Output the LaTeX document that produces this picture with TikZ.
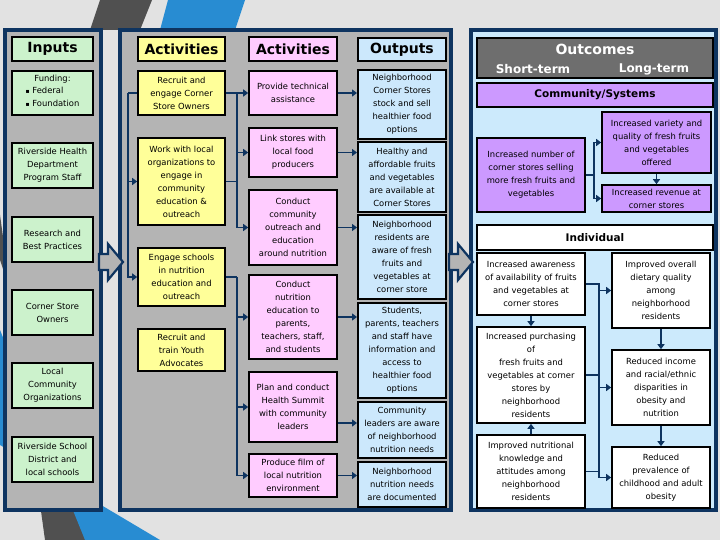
\documentclass[tikz,border=0pt]{standalone}
\usepackage{fontspec}
\setmainfont{DejaVu Sans}
\usetikzlibrary{arrows.meta}
\definecolor{pblue}{RGB}{14,52,96}
\definecolor{pgrey}{RGB}{180,180,180}
\definecolor{bggrey}{RGB}{226,226,226}
\definecolor{ingreen}{RGB}{204,242,204}
\definecolor{actyellow}{RGB}{255,255,153}
\definecolor{actpink}{RGB}{255,204,255}
\definecolor{outblue}{RGB}{204,232,252}
\definecolor{ocblue}{RGB}{204,234,252}
\definecolor{hdgrey}{RGB}{110,110,110}
\definecolor{purp}{RGB}{204,153,255}
\definecolor{decoblue}{RGB}{40,140,210}
\definecolor{decodark}{RGB}{80,80,80}
\newcommand\bodyfont{\fontsize{8.4}{13}\selectfont}
\newcommand\hdrfont{\fontsize{14}{16}\selectfont\bfseries}
\newcommand\sqbul{{\fontsize{6}{6}\selectfont ▪}}
\newcommand\bx[7]{\node[#6, minimum width={(#4-#2)*1pt}, minimum height={(#5-#3)*1pt}] (#1) at ({(#2+#4)/2},{(#3+#5)/2}) {#7};}
\begin{document}
\begin{tikzpicture}[x=1pt,y=-1pt,
  box/.style={draw=black, line width=1.6pt, inner sep=1pt, align=center, font=\bodyfont, text=black},
  inbox/.style={box, fill=ingreen},
  yelbox/.style={box, fill=actyellow},
  pinkbox/.style={box, fill=actpink},
  outbox/.style={box, fill=outblue, line width=2pt},
  purpbox/.style={box, fill=purp},
  whbox/.style={box, fill=white},
  hdr/.style={font=\hdrfont},
  panel/.style={draw=pblue, line width=4pt},
  conn/.style={draw=pblue, line width=1.8pt, -{Triangle[length=5pt,width=7pt]}},
  bus/.style={draw=pblue, line width=1.8pt},
  blockarrow/.style={draw=pblue, line width=2.2pt, fill=pgrey, line join=miter}
]
% background
\fill[bggrey] (0,0) rectangle (720,540);
\fill[decodark] (100,0) -- (152,0) -- (140,30) -- (90,30) -- cycle;
\fill[decoblue] (168,0) -- (245,0) -- (235,30) -- (160,30) -- cycle;
\fill[decodark] (0,215) -- (0,260) -- (95,540) -- (45,540) -- cycle;
\fill[decoblue] (0,330) -- (0,445) -- (160,540) -- (85,540) -- cycle;

% panels
\bx{pin}{5}{30}{101}{510}{panel, fill=pgrey}{}
\bx{pact}{120}{30}{451}{510}{panel, fill=pgrey}{}
\bx{poc}{471}{30}{716}{510}{panel, fill=ocblue}{}

% block arrows between panels
\draw[blockarrow] (99,254) -- (108,254) -- (108,244) -- (123,262) -- (108,280) -- (108,270) -- (99,270) -- cycle;
\draw[blockarrow] (449,254) -- (458,254) -- (458,244) -- (473,262) -- (458,280) -- (458,270) -- (449,270) -- cycle;

% Inputs
\bx{hin}{12}{37}{93}{61}{inbox, hdr}{Inputs}
\bx{fund}{12}{71}{93}{115}{inbox}{Funding:\\\begin{tabular}{@{}l@{}}\sqbul\ Federal\\\sqbul\ Foundation\end{tabular}}
\bx{rhd}{12}{143}{93}{188}{inbox}{Riverside Health\\Department\\Program Staff}
\bx{rbp}{12}{217}{93}{262}{inbox}{Research and\\Best Practices}
\bx{cso}{12}{290}{93}{335}{inbox}{Corner Store\\Owners}
\bx{lco}{12}{363}{93}{408}{inbox}{Local\\Community\\Organizations}
\bx{rsd}{12}{437}{93}{482}{inbox}{Riverside School\\District and\\local schools}

% Activities 1
\bx{ha1}{138}{37}{225}{61}{yelbox, hdr}{Activities}
\bx{ra}{138}{71}{225}{115}{yelbox}{Recruit and\\engage Corner\\Store Owners}
\bx{wl}{138}{138}{225}{225}{yelbox}{Work with local\\organizations to\\engage in\\community\\education \&\\outreach}
\bx{es}{138}{248}{225}{306}{yelbox}{Engage schools\\in nutrition\\education and\\outreach}
\bx{ya}{138}{329}{225}{371}{yelbox}{Recruit and\\train Youth\\Advocates}

% Activities 2
\bx{ha2}{249}{37}{337}{61}{pinkbox, hdr}{Activities}
\bx{pt}{249}{71}{337}{115}{pinkbox}{Provide technical\\assistance}
\bx{ls}{249}{128}{337}{177}{pinkbox}{Link stores with\\local food\\producers}
\bx{co}{249}{190}{337}{265}{pinkbox}{Conduct\\community\\outreach and\\education\\around nutrition}
\bx{cn}{249}{275}{337}{359}{pinkbox}{Conduct\\nutrition\\education to\\parents,\\teachers, staff,\\and students}
\bx{pc}{249}{372}{337}{442}{pinkbox}{Plan and conduct\\Health Summit\\with community\\leaders}
\bx{pf}{249}{454}{337}{497}{pinkbox}{Produce film of\\local nutrition\\environment}

% Outputs
\bx{hout}{358}{38}{446}{61}{outbox, hdr}{Outputs}
\bx{o1}{358}{70}{446}{139}{outbox}{Neighborhood\\Corner Stores\\stock and sell\\healthier food\\options}
\bx{o2}{358}{142}{446}{212}{outbox}{Healthy and\\affordable fruits\\and vegetables\\are available at\\Corner Stores}
\bx{o3}{358}{215}{446}{299}{outbox}{Neighborhood\\residents are\\aware of fresh\\fruits and\\vegetables at\\corner store}
\bx{o4}{358}{303}{446}{398}{outbox}{Students,\\parents, teachers\\and staff have\\information and\\access to\\healthier food\\options}
\bx{o5}{358}{402}{446}{458}{outbox}{Community\\leaders are aware\\of neighborhood\\nutrition needs}
\bx{o6}{358}{462}{446}{507}{outbox}{Neighborhood\\nutrition needs\\are documented}

% Outcomes
\bx{hoc}{477}{38}{713}{78}{box, fill=hdgrey}{}
\node[font=\fontsize{14}{16}\selectfont\bfseries, text=white] (oct) at (595,49) {Outcomes};
\node[font=\fontsize{12}{14}\selectfont\bfseries, text=white] (st) at (533,69) {Short-term};
\node[font=\fontsize{12}{14}\selectfont\bfseries, text=white] (lt) at (654,69) {Long-term};
\bx{cs}{477}{83}{713}{107}{purpbox, font=\fontsize{10.5}{12}\selectfont\bfseries}{Community/Systems}
\bx{inc}{477}{138}{585}{212}{purpbox}{Increased number of\\corner stores selling\\more fresh fruits and\\vegetables}
\bx{var}{602}{112}{711}{173}{purpbox}{Increased variety and\\quality of fresh fruits\\and vegetables\\offered}
\bx{rev}{602}{185}{711}{212}{purpbox}{Increased revenue at\\corner stores}
\bx{ind}{477}{225}{713}{250}{whbox, font=\fontsize{10.5}{12}\selectfont\bfseries}{Individual}
\bx{aw}{477}{253}{585}{315}{whbox}{Increased awareness\\of availability of fruits\\and vegetables at\\corner stores}
\bx{pu}{477}{327}{585}{423}{whbox}{Increased purchasing\\of\\fresh fruits and\\vegetables at corner\\stores by\\neighborhood\\residents}
\bx{nk}{477}{435}{585}{508}{whbox}{Improved nutritional\\knowledge and\\attitudes among\\neighborhood\\residents}
\bx{io}{612}{253}{710}{328}{whbox}{Improved overall\\dietary quality\\among\\neighborhood\\residents}
\bx{ri}{612}{350}{710}{425}{whbox}{Reduced income\\and racial/ethnic\\disparities in\\obesity and\\nutrition}
\bx{rp}{612}{447}{710}{508}{whbox}{Reduced\\prevalence of\\childhood and adult\\obesity}

% Connectors: activities column 1 left bus
\path (ra.west) ++(-9,0) coordinate (bl);
\draw[bus] (ra.west) -- (bl);
\draw[conn] (bl) |- (wl.west);
\draw[conn] (bl) |- (es.west);

% column1 -> column2
\path (ra.east) ++(11,0) coordinate (b1);
\draw[bus] (ra.east) -- (b1);
\draw[conn] (b1) |- (pt.west);
\draw[conn] (b1) |- (ls.west);
\draw[conn] (b1) |- (co.west);
\draw[bus] (wl.east) -- (wl.east -| b1);
\path (es.east) ++(11,0) coordinate (b2);
\draw[bus] (es.east) -- (b2);
\draw[conn] (b2) |- (cn.west);
\draw[conn] (b2) |- (pc.west);
\draw[conn] (b2) |- (pf.west);

% column2 -> outputs
\draw[conn] (pt.east) -- (pt.east -| o1.west);
\draw[conn] (ls.east) -- (ls.east -| o2.west);
\draw[conn] (co.east) -- (co.east -| o3.west);
\draw[conn] (cn.east) -- (cn.east -| o4.west);
\path ([yshift=-16pt]pc.east) coordinate (pce);
\draw[conn] (pce) -- (pce -| o5.west);
\draw[conn] (pf.east) -- (pf.east -| o6.west);

% community/systems
\path (inc.east) ++(8,0) coordinate (b3);
\draw[bus] (inc.east) -- (b3);
\draw[conn] (b3) |- (var.west);
\draw[conn] (b3) |- (rev.west);
\draw[conn] (var.south) -- (rev.north);

% individual
\path (aw.east) ++(13,0) coordinate (b5);
\draw[bus] (aw.east) -- (b5) -- (b5 |- rp.west);
\draw[bus] (pu.east) -- (pu.east -| b5);
\draw[bus] (nk.east) -- (nk.east -| b5);
\draw[conn] (b5 |- io.west) -- (io.west);
\draw[conn] (b5 |- ri.west) -- (ri.west);
\draw[conn] (b5 |- rp.west) -- (rp.west);
\draw[conn] (aw.south) -- (pu.north);
\draw[conn] (nk.north) -- (pu.south);
\draw[conn] (io.south) -- (ri.north);
\draw[conn] (ri.south) -- (rp.north);
\end{tikzpicture}
\end{document}
